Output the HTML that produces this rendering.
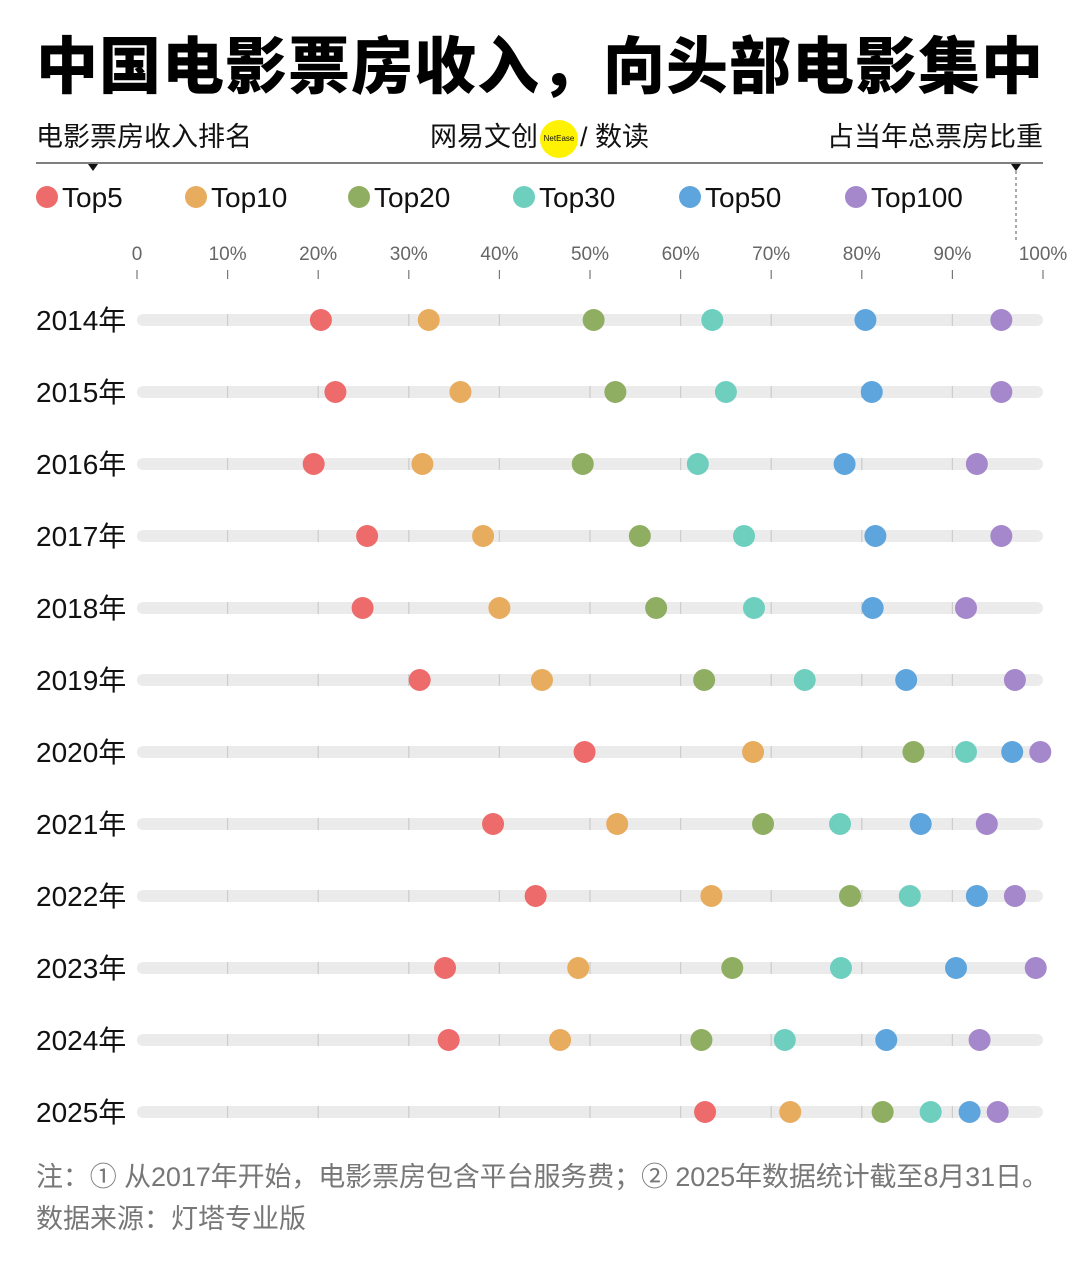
<!DOCTYPE html>
<html><head><meta charset="utf-8"><style>
body{margin:0;width:1080px;height:1261px;background:#fff;overflow:hidden;font-family:"Liberation Sans","Noto Sans CJK SC",sans-serif;position:relative}
.a{position:absolute;white-space:nowrap}
</style></head><body>
<div class="a" style="left:36px;top:16px;font-size:62px;font-weight:900;letter-spacing:1px;color:#000">中国电影票房收入，向头部电影集中</div>
<div class="a" style="left:36px;top:115px;font-size:27px;color:#111">电影票房收入排名</div>
<div class="a" style="left:430px;top:115px;font-size:27px;color:#111">网易文创<span style="display:inline-block;width:38px;height:38px;border-radius:50%;background:#fff200;font-size:8px;line-height:38px;text-align:center;vertical-align:middle;margin:0 2px">NetEase</span>/ 数读</div>
<div class="a" style="right:37px;top:115px;font-size:27px;color:#111">占当年总票房比重</div>
<svg id="c" class="a" style="left:0;top:0" width="1080" height="1261"></svg>
<div class="a" style="left:36px;top:1155px;font-size:27px;letter-spacing:-0.1px;color:#777">注：① 从2017年开始，电影票房包含平台服务费；② 2025年数据统计截至8月31日。</div>
<div class="a" style="left:36px;top:1197px;font-size:27px;color:#777">数据来源：灯塔专业版</div>
<script>
const years=["2014年","2015年","2016年","2017年","2018年","2019年","2020年","2021年","2022年","2023年","2024年","2025年"];
const seriesNames=["Top5","Top10","Top20","Top30","Top50","Top100"];
const top5=[20.3,21.9,19.5,25.4,24.9,31.2,49.4,39.3,44.0,34.0,34.4,62.7];
const top10=[32.2,35.7,31.5,38.2,40.0,44.7,68.0,53.0,63.4,48.7,46.7,72.1];
const top20=[50.4,52.8,49.2,55.5,57.3,62.6,85.7,69.1,78.7,65.7,62.3,82.3];
const top30=[63.5,65.0,61.9,67.0,68.1,73.7,91.5,77.6,85.3,77.7,71.5,87.6];
const top50=[80.4,81.1,78.1,81.5,81.2,84.9,96.6,86.5,92.7,90.4,82.7,91.9];
const top100=[95.4,95.4,92.7,95.4,91.5,96.9,99.7,93.8,96.9,99.2,93.0,95.0];
const ticks=[0,10,20,30,40,50,60,70,80,90,100];
const series=[top5,top10,top20,top30,top50,top100];
const colors=["#ee6b6b","#e8ac5f","#8fae62","#6fcfbf","#5ea5dd","#a587cc"];
const NS="http://www.w3.org/2000/svg",svg=document.getElementById('c');
const x=v=>137+v*9.06, y=i=>320+i*72;
function mk(t,a,p){const e=document.createElementNS(NS,t);for(const k in a)e.setAttribute(k,a[k]);(p||svg).appendChild(e);return e;}
let e=mk('line',{x1:36,x2:1043,y1:163,y2:163,stroke:'#555','stroke-width':1.5});

mk('path',{d:'M88 164 L98 164 L93 171 Z',fill:'#111'});
mk('path',{d:'M1011 164 L1021 164 L1016 171 Z',fill:'#111'});
mk('line',{x1:1016,x2:1016,y1:171,y2:240,stroke:'#555','stroke-dasharray':'3,3'});
const legX=[36,185,348,513,679,845];
seriesNames.forEach((n,k)=>{
 const g=mk('g',{});
 
 
 mk('circle',{cx:legX[k]+11,cy:197,r:11,fill:colors[k]},g);
 const t=mk('text',{x:legX[k]+26,y:207,'font-size':28,fill:'#111'},g);t.textContent=n;
});
ticks.forEach(v=>{
 const t=mk('text',{x:x(v),y:260,'font-size':19,fill:'#666','text-anchor':'middle'});t.textContent=v===0?'0':v+'%';
 
 mk('line',{x1:x(v),x2:x(v),y1:270,y2:279,stroke:'#777','stroke-width':1.2});
});
years.forEach((yr,i)=>{
 const t=mk('text',{x:36,y:y(i)+10,'font-size':28,fill:'#111'});t.textContent=yr;
 
 const tr=mk('rect',{x:137,y:y(i)-6,width:906,height:12,rx:6,fill:'#ebebeb'});
 
 ticks.slice(1,-1).forEach(v=>mk('line',{x1:x(v),x2:x(v),y1:y(i)-6,y2:y(i)+6,stroke:'#ccc','stroke-width':1.2}));
 series.forEach((s,k)=>{
  const c=mk('circle',{cx:x(s[i]),cy:y(i),r:11,fill:colors[k]});
  
  
 });
});
</script>
</body></html>
